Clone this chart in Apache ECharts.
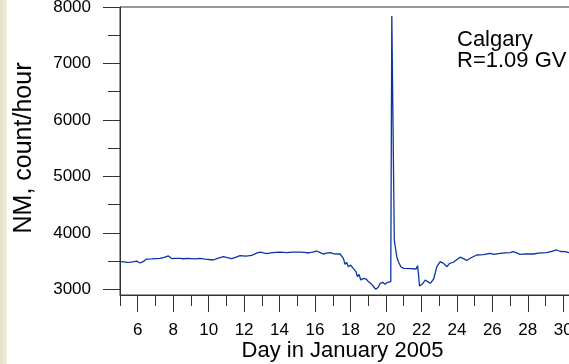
<!DOCTYPE html>
<html>
<head>
<meta charset="utf-8">
<script src="https://cdn.jsdelivr.net/npm/echarts@6/dist/echarts.min.js"></script>
<style>
html,body{margin:0;padding:0;background:#fff;}
#c{width:569px;height:364px;}
</style>
</head>
<body>
<div id="c"></div>
<script>
// Day in January 2005 (fractional days)
var days = [
  5.00,5.20,5.40,5.60,5.80,5.94,6.05,6.13,6.30,6.50,6.80,7.00,7.26,7.50,7.73,7.91,8.10,8.38,8.60,8.76,
  9.00,9.25,9.51,9.80,10.26,10.50,10.83,11.05,11.30,11.55,11.77,12.10,12.43,12.70,12.90,13.10,13.27,13.60,14.02,14.40,
  14.75,15.15,15.40,15.62,15.85,16.09,16.30,16.47,16.65,16.84,17.10,17.41,17.50,17.60,17.69,17.78,17.88,18.01,18.12,18.20,
  18.31,18.39,18.48,18.58,18.73,18.88,19.01,19.20,19.30,19.43,19.58,19.67,19.82,19.95,20.09,20.20,20.27,20.30,20.33,20.47,
  20.51,20.61,20.70,20.84,20.99,21.36,21.70,21.78,21.84,21.89,22.03,22.22,22.35,22.50,22.69,22.87,23.06,23.25,23.44,23.59,
  23.80,24.18,24.40,24.55,24.80,25.12,25.50,25.87,26.10,26.43,26.75,27.00,27.18,27.40,27.56,27.90,28.31,28.60,29.06,29.30,
  29.63,29.85,30.10,30.32,30.50
];
// Neutron monitor count rate, count/hour
var counts = [
  3490,3485,3478,3482,3490,3502,3480,3467,3490,3537,3540,3545,3549,3565,3591,3545,3550,3549,3542,3549,
  3545,3540,3549,3535,3520,3550,3579,3560,3543,3570,3596,3590,3600,3640,3661,3645,3632,3650,3661,3650,
  3660,3661,3655,3644,3660,3679,3650,3626,3640,3649,3630,3626,3620,3550,3443,3479,3401,3431,3384,3419,
  3313,3224,3266,3165,3195,3183,3136,3089,3047,3000,3047,3107,3124,3089,3124,3089,3136,3130,7841,3874,
  3785,3578,3490,3401,3372,3366,3360,3419,3254,3059,3089,3165,3136,3107,3183,3401,3490,3460,3401,3460,
  3480,3570,3540,3510,3560,3608,3615,3638,3620,3638,3645,3650,3667,3640,3620,3630,3626,3640,3650,3670,
  3697,3670,3667,3650,3655
];
var xTickDays = [];
for (var d = 5; d <= 31; d++) xTickDays.push(String(d));
var yTickVals = [];
for (var v = 2900; v <= 8000; v += 100) yTickVals.push(String(v));
var stationText = 'Calgary\nR=1.09 GV';
var xTitle = 'Day in January 2005';
var yTitle = 'NM, count/hour';

var FONT = 'Liberation Sans, Arial, sans-serif';
var AX = '#333';
var data = days.map(function (d, i) { return [d, counts[i]]; });

var chart = echarts.init(document.getElementById('c'), null, {renderer: 'canvas'});
chart.setOption({
  animation: false,
  backgroundColor: '#ffffff',
  textStyle: {fontFamily: FONT},
  grid: {left: 120, top: 7, right: -12, bottom: 69, containLabel: false, outerBoundsMode: 'none',
         show: true, borderColor: AX, borderWidth: 1, backgroundColor: 'transparent'},
  graphic: [
    {type: 'rect', left: 0, top: 0, shape: {x: 0, y: 0, width: 7, height: 364},
     style: {fill: new echarts.graphic.LinearGradient(0, 0, 1, 0, [{offset: 0, color: '#e3e2c3'}, {offset: 1, color: '#efeedb'}])}},
    {type: 'text', left: 457, top: 29,
     style: {text: stationText, fontSize: 22, lineHeight: 21, fontFamily: FONT, fill: '#000'}}
  ],
  xAxis: [
    {type: 'value', min: 5, max: 31, interval: 1, position: 'bottom',
     axisLine: {show: true, lineStyle: {color: AX, width: 1}},
     axisTick: {show: true, length: 11, lineStyle: {color: AX}},
     splitLine: {show: false},
     axisLabel: {margin: 27, fontSize: 17, color: '#000', fontFamily: FONT,
       formatter: function (v) { return (v % 2 === 0 && v <= 30) ? String(v) : ''; }},
     name: xTitle, nameLocation: 'middle', nameGap: 45, nameMoveOverlap: false,
     nameTextStyle: {fontSize: 22, color: '#000', fontFamily: FONT, padding: [0, 16, 0, 0]}},
    {type: 'category', data: xTickDays, boundaryGap: false, position: 'bottom',
     axisLine: {show: false},
     axisTick: {show: true, length: 17, lineStyle: {color: AX},
       interval: function (i, v) { return (+v) % 2 === 0; }},
     axisLabel: {show: false}, splitLine: {show: false}}
  ],
  yAxis: [
    {type: 'value', min: 2900, max: 8000, position: 'left',
     axisLine: {show: true, lineStyle: {color: AX, width: 1}},
     axisTick: {show: false}, axisLabel: {show: false}, splitLine: {show: false},
     name: yTitle, nameLocation: 'middle', nameGap: 83, nameMoveOverlap: false,
     nameTextStyle: {fontSize: 25, color: '#000', fontFamily: FONT, padding: [0, 0, 0, 6]}},
    {type: 'category', data: yTickVals, boundaryGap: false, position: 'left',
     axisLine: {show: false},
     axisTick: {show: true, length: 17, lineStyle: {color: AX},
       interval: function (i, v) { return (+v) % 1000 === 0; }},
     axisLabel: {show: true, margin: 29, fontSize: 17, color: '#000', fontFamily: FONT,
       interval: function (i, v) { return (+v) % 1000 === 0; }},
     splitLine: {show: false}},
    {type: 'category', data: yTickVals, boundaryGap: false, position: 'left',
     axisLine: {show: false},
     axisTick: {show: true, length: 12, lineStyle: {color: AX},
       interval: function (i, v) { return (+v) % 1000 === 500; }},
     axisLabel: {show: false}, splitLine: {show: false}}
  ],
  series: [{
    type: 'line', xAxisIndex: 0, yAxisIndex: 0, data: data,
    showSymbol: false, symbol: 'none',
    lineStyle: {color: '#0a34a3', width: 1.3}
  }]
});
</script>
</body>
</html>
